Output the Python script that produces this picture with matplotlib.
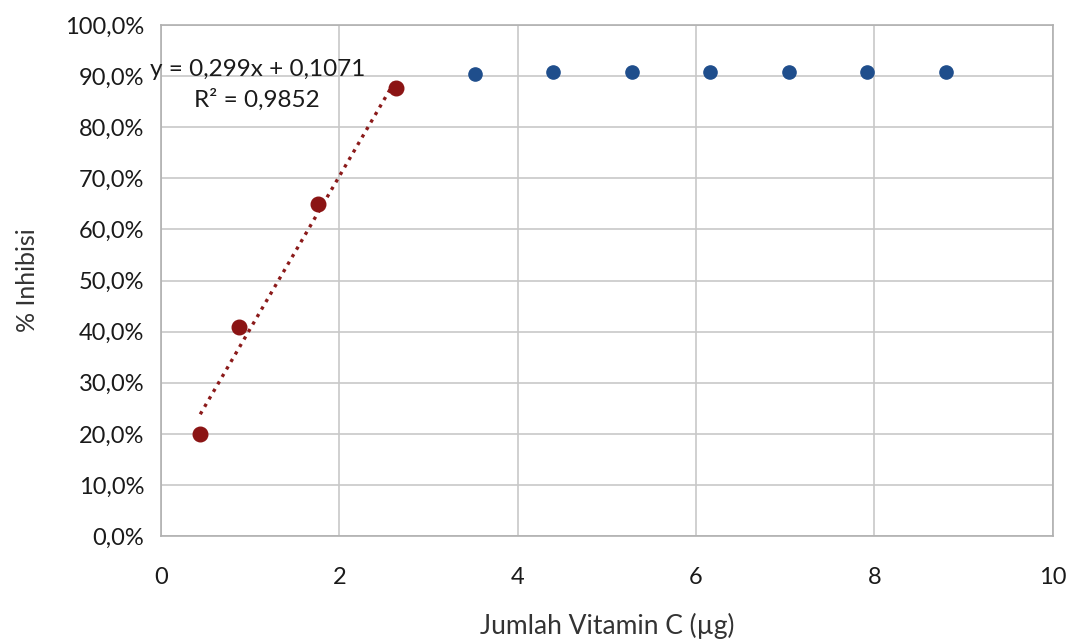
import numpy as np
import matplotlib.pyplot as plt
from matplotlib.ticker import FuncFormatter

# data
x_linear = [0.44, 0.88, 1.76, 2.64]
y_linear = [0.200, 0.409, 0.650, 0.877]
x_plateau = [3.52, 4.40, 5.28, 6.16, 7.04, 7.92, 8.80]
y_plateau = [0.904, 0.908, 0.908, 0.908, 0.908, 0.908, 0.908]

plt.rcParams['font.family'] = ['Lato', 'DejaVu Sans']

fig = plt.figure(figsize=(10.77, 6.42), dpi=100)
ax = fig.add_axes([0.1495, 0.165, 0.828, 0.796])

ax.set_xlim(0, 10)
ax.set_ylim(0, 1.0)
ax.set_xticks(np.arange(0, 11, 2))
ax.set_yticks(np.arange(0, 1.01, 0.1))
ax.yaxis.set_major_formatter(FuncFormatter(lambda v, p: f"{v*100:.1f}%".replace('.', ',')))
ax.grid(True, color='#c8c8c8', linewidth=1.2)
ax.set_axisbelow(True)
for s in ax.spines.values():
    s.set_color('#b0b0b0')
    s.set_linewidth(1.2)
ax.tick_params(length=0, labelsize=17, colors='#1a1a1a')
ax.tick_params(axis='x', pad=22)
ax.tick_params(axis='y', pad=12)

# linear trendline over the red points
k, b = np.polyfit(x_linear, y_linear, 1)
xs = np.array([x_linear[0], x_linear[-1]])
ax.plot(xs, k * xs + b, linestyle=(0, (1, 1.6)), color='#8b1a1a', linewidth=2.4, zorder=2)

ax.plot(x_linear, y_linear, 'o', color='#8b1414', markersize=10.5, zorder=3)
ax.plot(x_plateau, y_plateau, 'o', color='#1f4e8c', markersize=9.5, zorder=3)

ax.text(1.08, 0.883, "y = 0,299x + 0,1071\nR² = 0,9852", ha='center', va='center',
        fontsize=17.5, color='#1a1a1a', linespacing=1.45, zorder=4)

ax.set_xlabel("Jumlah Vitamin C (µg)", fontsize=19, color='#333333', labelpad=18)
ax.set_ylabel("% Inhibisi", fontsize=18, color='#333333', labelpad=19)

fig.savefig("out.png", dpi=100)
